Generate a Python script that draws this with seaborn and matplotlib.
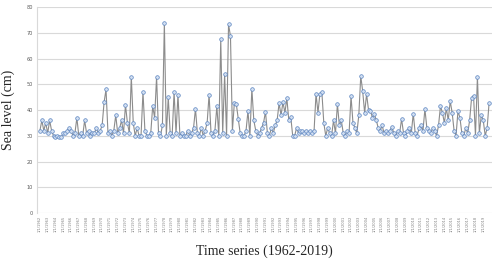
import numpy as np
import pandas as pd
import seaborn as sns
import matplotlib
matplotlib.use('Agg')
import matplotlib.pyplot as plt

# sea level readings (cm), 4 per year 1962-2019
sea_level = [
    32, 36, 32, 35, 31, 36, 32, 30, 29.5, 30,
    29.5, 29.5, 31, 31, 32, 33, 32, 30, 31, 37,
    30, 31, 30, 36, 31, 32, 30, 31, 31, 33,
    31, 32, 34, 43, 48, 31, 32, 30, 32, 38,
    31, 33, 36, 31, 42, 35, 31, 53, 35, 30,
    33, 30, 30, 47, 32, 30, 30, 31, 41.5, 37,
    53, 31, 30, 34, 74, 30, 45, 31, 30, 47,
    31, 46, 30, 31, 30, 30, 32, 30, 31, 33,
    40.5, 31, 30, 33, 30, 32, 35, 46, 31, 30,
    32, 41.5, 30, 67.5, 31, 54, 30, 73.3, 68.7, 32,
    42.8, 42.3, 36.5, 31, 30, 30, 32, 39.6, 30, 48.3,
    36, 32, 30, 31, 33, 35, 39.3, 31, 30, 33,
    31, 34, 36, 42.7, 38, 43, 39, 44.6, 36, 37.4,
    30, 30, 33, 31, 32, 32, 31, 32, 31, 32,
    31, 32, 46.3, 39, 46.3, 47, 35, 30, 33, 31,
    30, 36, 31, 42.3, 34, 36, 31, 30, 32, 31,
    45.4, 35, 33, 31, 38, 53.2, 47.3, 38.9, 46.2, 40,
    39.8, 37, 38.4, 36, 33, 32, 34, 31, 32, 31,
    32, 33.5, 31, 30, 32, 31, 36.5, 31, 30, 32,
    33, 31, 38.6, 31, 30, 33, 34, 32, 40.4, 33,
    32, 31, 33, 32, 30, 34, 41.5, 39, 35, 40.7,
    36, 43.5, 39, 32, 30, 39.6, 37, 31, 30, 33,
    31, 36, 44.8, 45.6, 30, 53, 31, 38, 36, 30,
    33, 42.8,
]
years = list(range(1962, 2020))
tick_labels = ["1/1/%d" % y for y in years]

df = pd.DataFrame({"t": np.arange(len(sea_level)), "level": sea_level})

sns.set_style("white")
fig = plt.figure(figsize=(5, 2.62), dpi=100)
ax = fig.add_axes([0.074, 0.187, 0.91, 0.786])

sns.lineplot(data=df, x="t", y="level", ax=ax, color="#8c8c8c", linewidth=0.8,
             marker="o", markersize=2.6, markerfacecolor="#d3e0f2",
             markeredgecolor="#5b84c0", markeredgewidth=0.5)

ax.set_ylim(0, 80)
ax.set_yticks(range(0, 81, 10))
ax.set_xlim(-1.5, len(sea_level) + 0.5)
ax.set_xticks(np.arange(0, len(sea_level), 4))
ax.set_xticklabels(tick_labels, rotation=90, fontsize=2.6, color="#7f7f7f")
ax.tick_params(axis="y", labelsize=3.6, labelcolor="#595959", length=0, pad=3)
ax.tick_params(axis="x", length=0, pad=2)
ax.yaxis.grid(True, color="#d9d9d9", linewidth=0.8)
ax.set_axisbelow(True)

for s in ["top", "right", "bottom"]:
    ax.spines[s].set_visible(False)
ax.spines["left"].set_color("#d9d9d9")
ax.spines["left"].set_linewidth(0.8)

ax.set_xlabel("Time series (1962-2019)", family="Liberation Serif", fontsize=10, labelpad=9)
ax.set_ylabel("Sea level (cm)", family="Liberation Serif", fontsize=10, labelpad=8)

fig.savefig("out.png", dpi=100)
